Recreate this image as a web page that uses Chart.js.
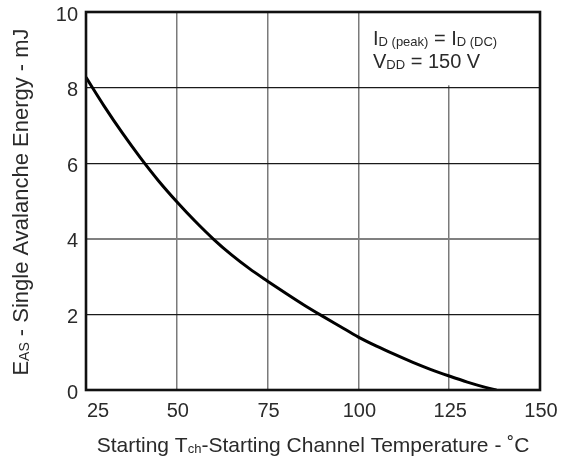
<!DOCTYPE html>
<html>
<head>
<meta charset="utf-8">
<script src="https://cdn.jsdelivr.net/npm/chart.js@4"></script>
<style>
  html, body { margin: 0; padding: 0; background: #fff; }
  #wrap { width: 565px; height: 461px; }
</style>
</head>
<body>
<div id="wrap"><canvas id="easChart" width="565" height="461"></canvas></div>
<script>
// values
const temps = [25, 30, 35, 40, 45, 50, 55, 60, 65, 70, 75, 80, 85, 90, 95, 100, 105, 110, 115, 120, 125, 130, 135, 138];
const energy = [8.27, 7.51, 6.8, 6.14, 5.53, 4.98, 4.47, 4.0, 3.58, 3.21, 2.88, 2.56, 2.25, 1.96, 1.68, 1.4, 1.16, 0.94, 0.73, 0.54, 0.37, 0.21, 0.07, 0];
const xTicks = [25, 50, 75, 100, 125, 150];
const yTicks = [0, 2, 4, 6, 8, 10];

const FONT = '"Liberation Sans", Arial, sans-serif';
const TEXT = "#2a2a2a";

// draw a run of [text, size, dy] pieces starting at x
function drawRuns(ctx, runs, x, y) {
    runs.forEach(r => {
        ctx.font = r[1] + "px " + FONT;
        ctx.fillText(r[0], x, y + (r[2] || 0));
        x += ctx.measureText(r[0]).width;
    });
}
function runsWidth(ctx, runs) {
    let w = 0;
    runs.forEach(r => {
        ctx.font = r[1] + "px " + FONT;
        w += ctx.measureText(r[0]).width;
    });
    return w;
}

const textPlugin = {
    id: "textPlugin",
    beforeDatasetsDraw(chart) {
        const ctx = chart.ctx;
        const xs = chart.scales.x, ys = chart.scales.y;
        // white box behind the conditions note
        ctx.save();
        ctx.fillStyle = "#fff";
        const bx = xs.getPixelForValue(101.5), by = ys.getPixelForValue(8.06);
        ctx.fillRect(bx, chart.chartArea.top + 1, chart.chartArea.right - bx - 1, by - chart.chartArea.top - 1);
        ctx.restore();
    },
    afterDraw(chart) {
        const ctx = chart.ctx;
        const area = chart.chartArea;
        const xs = chart.scales.x, ys = chart.scales.y;
        ctx.save();
        // frame
        ctx.strokeStyle = "#111";
        ctx.lineWidth = 2.6;
        ctx.strokeRect(area.left, area.top, area.right - area.left, area.bottom - area.top);

        ctx.fillStyle = TEXT;
        ctx.textBaseline = "alphabetic";

        // y tick labels
        ctx.font = "20px " + FONT;
        ctx.textAlign = "right";
        yTicks.forEach(v => ctx.fillText(String(v), area.left - 8, ys.getPixelForValue(v) + 8.5));

        // x tick labels (first one sits to the right of its tick)
        xTicks.forEach((v, i) => {
            const px = xs.getPixelForValue(v);
            ctx.textAlign = i === 0 ? "left" : "center";
            ctx.fillText(String(v), i === 0 ? px + 1 : px + 1, area.bottom + 27);
        });

        // x axis title
        ctx.textAlign = "left";
        const xTitle = [["Starting T", 21], ["ch", 13, 1], ["-Starting Channel Temperature - \u02DAC", 21]];
        const xw = runsWidth(ctx, xTitle);
        drawRuns(ctx, xTitle, 313 - xw / 2, 452);

        // y axis title
        const yTitle = [["E", 22], ["AS", 14, 1], [" - Single Avalanche Energy - mJ", 22]];
        ctx.save();
        ctx.translate(28, 202);
        ctx.rotate(-Math.PI / 2);
        const yw = runsWidth(ctx, yTitle);
        drawRuns(ctx, yTitle, -yw / 2, 0);
        ctx.restore();

        // conditions note
        const nx = 373;
        drawRuns(ctx, [["I", 20], ["D (peak)", 13, 1], [" = ", 20], ["I", 20], ["D (DC)", 13, 1]], nx, 45);
        drawRuns(ctx, [["V", 20], ["DD", 13, 1], [" = 150 V", 20]], nx, 67.5);
        ctx.restore();
    }
};

const ctx = document.getElementById("easChart").getContext("2d");
new Chart(ctx, {
    type: "line",
    data: {
        datasets: [{
            label: "EAS",
            data: temps.map((t, i) => ({ x: t, y: energy[i] })),
            borderColor: "#000",
            borderWidth: 3,
            pointRadius: 0,
            fill: false,
            cubicInterpolationMode: "monotone"
        }]
    },
    options: {
        responsive: false,
        animation: false,
        layout: { padding: { left: 86, right: 25, top: 12, bottom: 71 } },
        plugins: {
            legend: { display: false },
            tooltip: { enabled: false }
        },
        scales: {
            x: {
                type: "linear",
                min: 25,
                max: 150,
                ticks: { display: false, stepSize: 25 },
                border: { display: false },
                grid: {
                    color: "#7a7a7a",
                    lineWidth: 1.5,
                    drawTicks: false
                }
            },
            y: {
                min: 0,
                max: 10,
                ticks: { display: false, stepSize: 2 },
                border: { display: false },
                grid: {
                    color: c => (c.tick && c.tick.value === 4 ? "#808080" : "#1a1a1a"),
                    lineWidth: c => (c.tick && c.tick.value === 4 ? 2 : 1.2),
                    drawTicks: false
                }
            }
        }
    },
    plugins: [textPlugin]
});
</script>
</body>
</html>
